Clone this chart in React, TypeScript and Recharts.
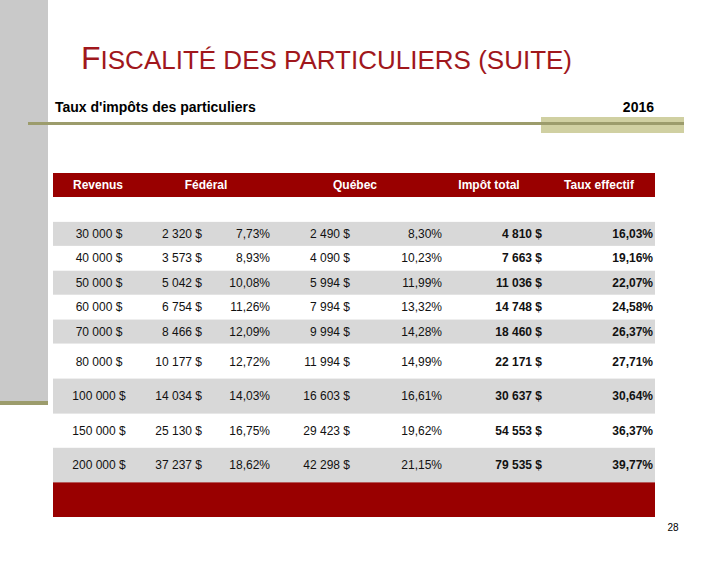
import React from 'react';
import { BarChart, Bar, XAxis, YAxis } from 'recharts';

// ---- Data ----
const headers = ['Revenus', 'Fédéral', 'Québec', 'Impôt total', 'Taux effectif'];
const revenus = [30000, 40000, 50000, 60000, 70000, 80000, 100000, 150000, 200000];
const federalImpot = [2320, 3573, 5042, 6754, 8466, 10177, 14034, 25130, 37237];
const federalTaux = [7.73, 8.93, 10.08, 11.26, 12.09, 12.72, 14.03, 16.75, 18.62];
const quebecImpot = [2490, 4090, 5994, 7994, 9994, 11994, 16603, 29423, 42298];
const quebecTaux = [8.3, 10.23, 11.99, 13.32, 14.28, 14.99, 16.61, 19.62, 21.15];
const impotTotal = [4810, 7663, 11036, 14748, 18460, 22171, 30637, 54553, 79535];
const tauxEffectif = [16.03, 19.16, 22.07, 24.58, 26.37, 27.71, 30.64, 36.37, 39.77];

// ---- Styles ----
const RED = '#990000';
const GRAY = '#D8D8D8';
const FONT = '"Liberation Sans", Arial, sans-serif';
const TABLE_LEFT = 53;
const TABLE_WIDTH = 602;
// header anchors (centre) and value column anchors, relative to table left
const HEADER_X = [45, 153, 302, 436, 546];
const COLS = [
  { key: 'rev', x: 46, anchor: 'middle', bold: false },
  { key: 'fi', x: 149, anchor: 'end', bold: false },
  { key: 'ft', x: 217, anchor: 'end', bold: false },
  { key: 'qi', x: 297, anchor: 'end', bold: false },
  { key: 'qt', x: 389, anchor: 'end', bold: false },
  { key: 'ti', x: 489, anchor: 'end', bold: true },
  { key: 'te', x: 600, anchor: 'end', bold: true },
];

const fmtMoney = (v: number) => v.toString().replace(/\B(?=(\d{3})+(?!\d))/g, ' ') + ' $';
const fmtPct = (v: number) => v.toFixed(2).replace('.', ',') + '%';

const dataRows = revenus.map((r, i) => ({
  key: 'r' + i,
  kind: 'data',
  idx: i,
  band: 1,
  rev: fmtMoney(r),
  fi: fmtMoney(federalImpot[i]),
  ft: fmtPct(federalTaux[i]),
  qi: fmtMoney(quebecImpot[i]),
  qt: fmtPct(quebecTaux[i]),
  ti: fmtMoney(impotTotal[i]),
  te: fmtPct(tauxEffectif[i]),
}));

const topRows = [
  { key: 'header', kind: 'header', band: 1 },
  { key: 'blank', kind: 'blank', band: 1 },
  ...dataRows.slice(0, 5),
];
const bottomRows = [...dataRows.slice(5), { key: 'footer', kind: 'footer', band: 1 }];

const RowShape = (props: any) => {
  const { x, y, width, height, payload } = props;
  const cy = y + height / 2;
  const kind = payload.kind;
  let fill = 'none';
  if (kind === 'header' || kind === 'footer') fill = RED;
  else if (kind === 'data' && payload.idx % 2 === 0) fill = GRAY;
  return (
    <g>
      <rect x={x} y={y} width={width} height={height} fill={fill} />
      {kind === 'header' &&
        headers.map((h, i) => (
          <text
            key={h}
            x={x + HEADER_X[i]}
            y={cy}
            textAnchor="middle"
            dominantBaseline="central"
            fill="#ffffff"
            fontWeight="bold"
            fontSize={12}
            fontFamily={FONT}
          >
            {h}
          </text>
        ))}
      {kind === 'data' &&
        COLS.map((c) => (
          <text
            key={c.key}
            x={x + c.x}
            y={cy}
            textAnchor={c.anchor as any}
            dominantBaseline="central"
            fill="#111111"
            fontWeight={c.bold ? 'bold' : 'normal'}
            fontSize={12}
            fontFamily={FONT}
          >
            {payload[c.key]}
          </text>
        ))}
    </g>
  );
};

const TableBlock = ({ rows, top, height }: { rows: any[]; top: number; height: number }) => (
  <div style={{ position: 'absolute', left: TABLE_LEFT, top, width: TABLE_WIDTH, height }}>
    <BarChart
      width={TABLE_WIDTH}
      height={height}
      data={rows}
      layout="vertical"
      margin={{ top: 0, right: 0, bottom: 0, left: 0 }}
      barCategoryGap={0}
    >
      <XAxis type="number" domain={[0, 1]} hide />
      <YAxis type="category" dataKey="key" hide />
      <Bar dataKey="band" isAnimationActive={false} shape={RowShape} />
    </BarChart>
  </div>
);

export default function App() {
  return (
    <div
      style={{
        position: 'absolute',
        left: 0,
        top: 0,
        width: 720,
        height: 567,
        background: '#ffffff',
        overflow: 'hidden',
        fontFamily: FONT,
      }}
    >
      <svg width={720} height={567} style={{ position: 'absolute', left: 0, top: 0 }}>
        <rect x={0} y={0} width={48} height={401} fill="#C9C9C9" />
        <rect x={0} y={401} width={48} height={4} fill="#9C9C6C" />
        <rect x={541} y={117} width={143} height={16} fill="#D0D0A2" />
        <rect x={28} y={122} width={656} height={3} fill="#9C9C6C" />
        <text x={81} y={69} fill="#A0171C" fontFamily={FONT}>
          <tspan fontSize={32}>F</tspan>
          <tspan fontSize={26}>ISCALITÉ DES PARTICULIERS (SUITE)</tspan>
        </text>
        <text x={55} y={112} fontSize={14} fontWeight="bold" fill="#000" fontFamily={FONT}>
          Taux d'impôts des particuliers
        </text>
        <text x={654} y={112} fontSize={14} fontWeight="bold" fill="#000" textAnchor="end" fontFamily={FONT}>
          2016
        </text>
        <text x={673} y={531} fontSize={10} fill="#000" textAnchor="middle" fontFamily={FONT}>
          28
        </text>
      </svg>
      <TableBlock rows={topRows} top={173} height={171} />
      <TableBlock rows={bottomRows} top={344} height={173} />
    </div>
  );
}
